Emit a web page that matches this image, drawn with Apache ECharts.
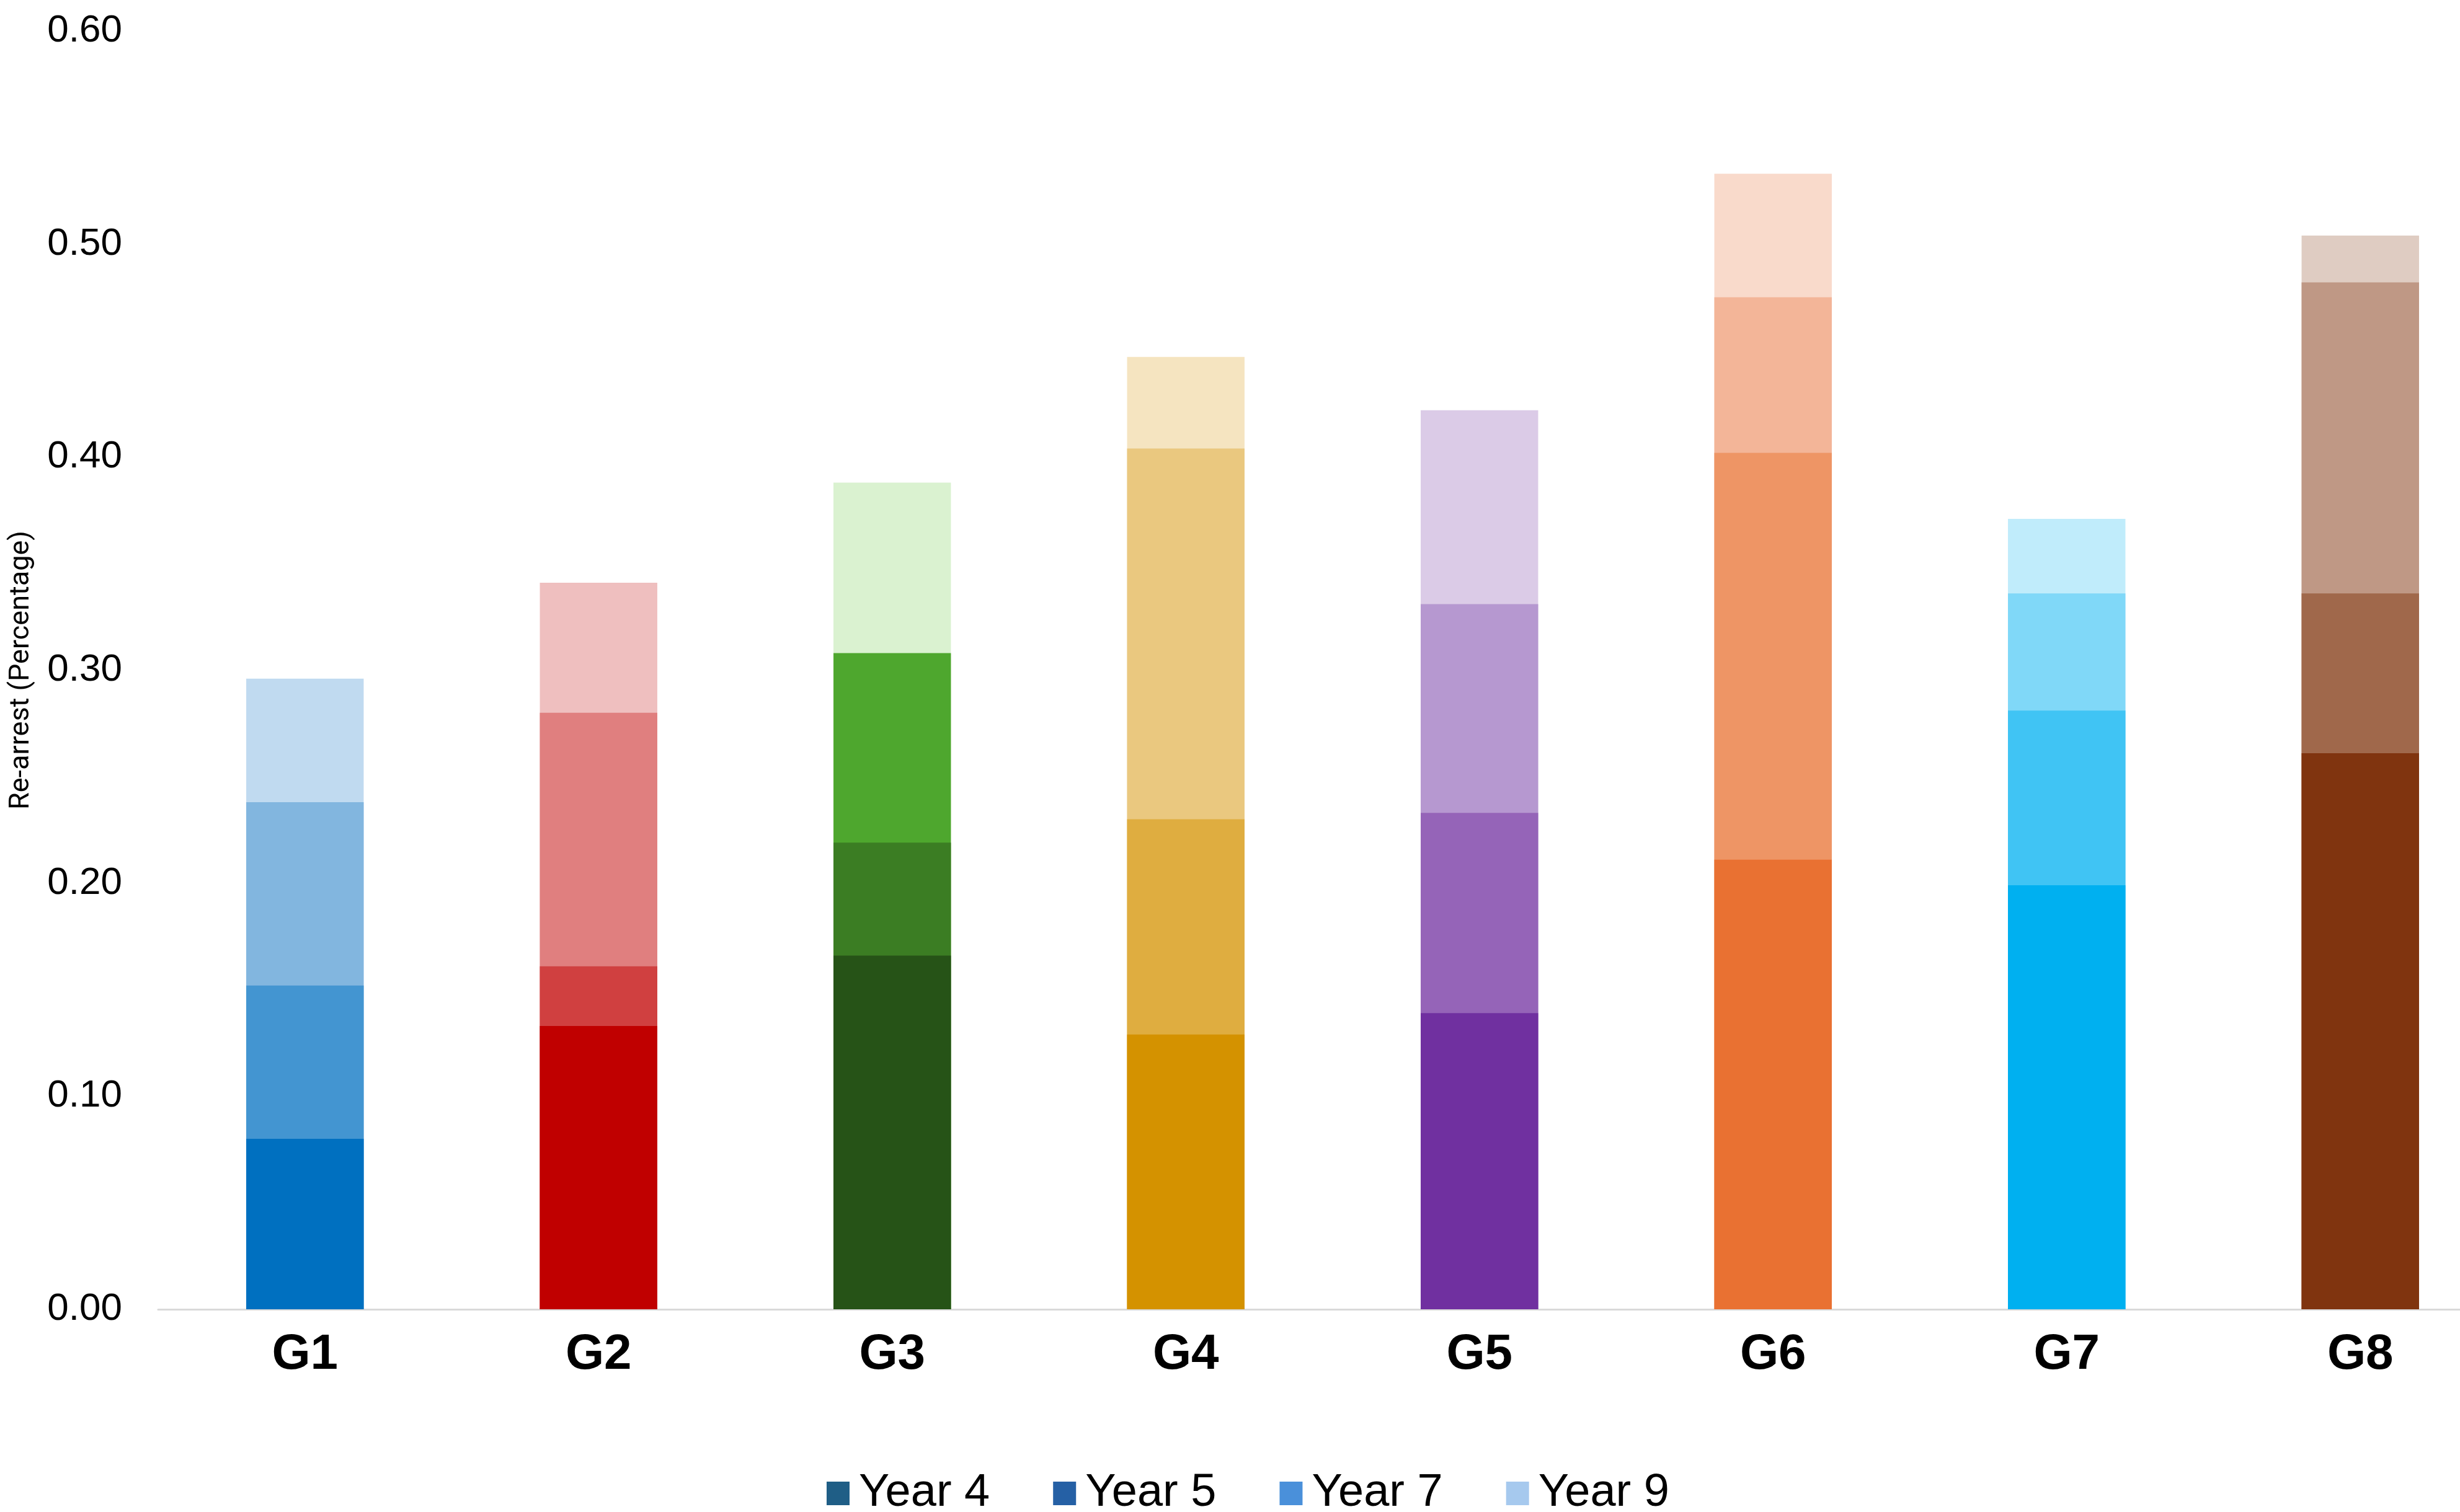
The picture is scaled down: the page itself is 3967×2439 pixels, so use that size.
<!DOCTYPE html>
<html>
<head>
<meta charset="utf-8">
<script src="https://cdn.jsdelivr.net/npm/echarts@6/dist/echarts.min.js"></script>
<style>
  html, body { margin: 0; padding: 0; background: #ffffff; }
  #chart { width: 3967px; height: 2439px; }
</style>
</head>
<body>
<div id="chart"></div>
<script>
// Categories (groups)
const categories = ['G1', 'G2', 'G3', 'G4', 'G5', 'G6', 'G7', 'G8'];
// Cumulative re-arrest proportion by follow-up year
const year4 = [0.080, 0.133, 0.166, 0.129, 0.139, 0.211, 0.199, 0.261];
const year5 = [0.152, 0.161, 0.219, 0.230, 0.233, 0.402, 0.281, 0.336];
const year7 = [0.238, 0.280, 0.308, 0.404, 0.331, 0.475, 0.336, 0.482];
const year9 = [0.296, 0.341, 0.388, 0.447, 0.422, 0.533, 0.371, 0.504];
const seriesNames = ['Year 4', 'Year 5', 'Year 7', 'Year 9'];
const yTicks = [0, 0.1, 0.2, 0.3, 0.4, 0.5, 0.6];

// Colours (per group shade for each year)
const colY4 = ['#0070C0', '#C00000', '#265317', '#D49200', '#7030A0', '#E97132', '#00B0F0', '#80340F'];
const colY5 = ['#4395D1', '#D04040', '#3B7D23', '#DFAD40', '#9564B8', '#EE9565', '#40C4F4', '#A0684B'];
const colY7 = ['#82B6DF', '#E07F7F', '#4EA72E', '#EAC87F', '#B698D0', '#F3B598', '#80D8F8', '#BF9885'];
const colY9 = ['#C0DAF0', '#EFBFBF', '#DAF2D0', '#F5E4C0', '#DBCBE7', '#F9DACB', '#C0ECFB', '#DFCCC2'];
const legendColors = ['#1F5E86', '#2560A5', '#4A90DA', '#A6C9EE'];

const allValues = [year4, year5, year7, year9];
const allColors = [colY4, colY5, colY7, colY9];

const chart = echarts.init(document.getElementById('chart'), null, { renderer: 'canvas' });

const series = seriesNames.map((name, si) => ({
  name: name,
  type: 'bar',
  barWidth: '40%',
  barGap: '-100%',
  z: 10 - si,
  itemStyle: { color: legendColors[si] },
  emphasis: { disabled: true },
  data: allValues[si].map((v, i) => ({ value: v, itemStyle: { color: allColors[si][i] } }))
}));

chart.setOption({
  animation: false,
  backgroundColor: '#ffffff',
  grid: { left: 255, top: 50, right: -76, bottom: 327, containLabel: false, outerBoundsMode: 'none' },
  legend: {
    data: seriesNames,
    left: 1328,
    top: 2367,
    orient: 'horizontal',
    itemWidth: 37,
    itemHeight: 38,
    itemGap: 102,
    icon: 'rect',
    formatter: '{a|{name}}',
    textStyle: {
      fontFamily: 'Liberation Sans, Arial, sans-serif', fontSize: 74, color: '#000000',
      rich: { a: { fontFamily: 'Liberation Sans, Arial, sans-serif', fontSize: 74, color: '#000000', padding: [0, 0, 0, 10] } }
    }
  },
  xAxis: {
    type: 'category',
    data: categories,
    axisLine: { show: true, lineStyle: { color: '#d9d9d9', width: 3 } },
    axisTick: { show: false },
    axisLabel: { margin: 34, fontFamily: 'Liberation Sans, Arial, sans-serif', fontWeight: 'bold', fontSize: 80, color: '#000000' }
  },
  yAxis: {
    type: 'value',
    min: 0,
    max: 0.6,
    interval: 0.1,
    name: 'Re-arrest (Percentage)',
    nameLocation: 'middle',
    nameGap: 198,
    nameRotate: 90,
    nameTextStyle: { fontFamily: 'Roboto, sans-serif', fontSize: 45, color: '#000000' },
    axisLine: { show: false },
    axisTick: { show: false },
    splitLine: { show: false },
    axisLabel: {
      margin: 58,
      fontFamily: 'Liberation Sans, Arial, sans-serif',
      fontSize: 62,
      color: '#000000',
      formatter: (v) => yTicks.some(t => Math.abs(t - v) < 1e-9) ? v.toFixed(2) : ''
    }
  },
  series: series
});
</script>
</body>
</html>
